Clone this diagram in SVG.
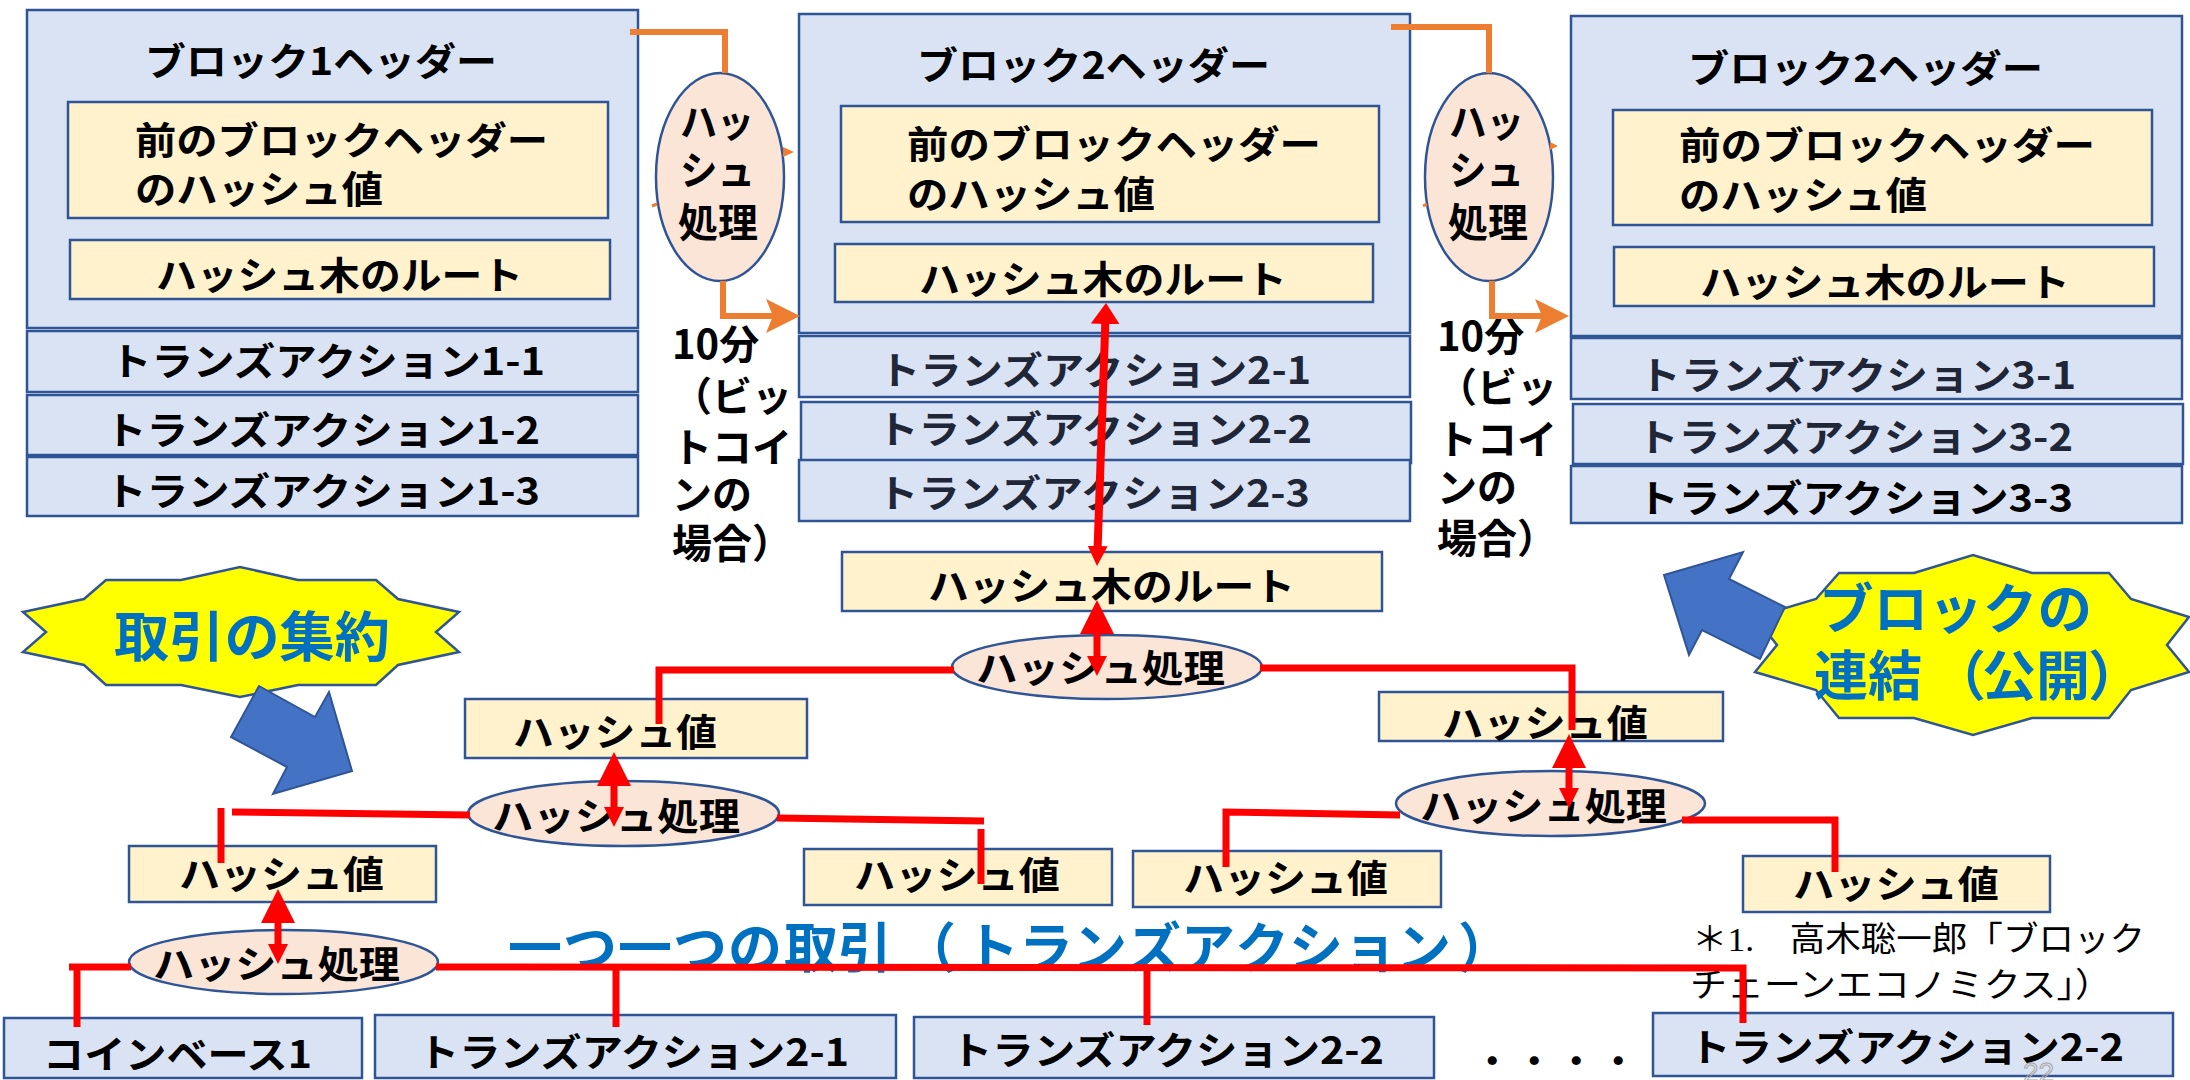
<svg xmlns="http://www.w3.org/2000/svg" width="2190" height="1080" viewBox="0 0 2190 1080">
<defs>
<style>
.blk{fill:#DAE3F3;stroke:#2F5597;stroke-width:2.5}
.yel{fill:#FFF2CC;stroke:#2F5597;stroke-width:2.5}
.ell{fill:#FBE5D6;stroke:#2F5597;stroke-width:2.5}
.star{fill:#FFFF00;stroke:#2F5597;stroke-width:2.5}
.barrow{fill:#4472C4;stroke:#2F5597;stroke-width:2}
.t{font-family:"Noto Sans CJK JP","Noto Sans",sans-serif;font-weight:700;font-size:38px;fill:#000}
.nv{fill:#1E2638}
.lbl{font-family:"Noto Sans CJK JP","Noto Sans",sans-serif;font-weight:700;font-size:40px;fill:#000}
.bt{font-family:"Noto Sans CJK JP","Noto Sans",sans-serif;font-weight:700;font-size:54px;fill:#0070C0}
.cite{font-family:"Noto Sans CJK JP","Noto Sans",sans-serif;font-weight:400;font-size:34px;fill:#000}
.red{fill:none;stroke:#FF0000;stroke-width:7}
.org{fill:none;stroke:#ED7D31;stroke-width:6}
</style>
<marker id="rbig" markerUnits="userSpaceOnUse" markerWidth="34" markerHeight="34" viewBox="0 0 34 34" refX="14" refY="17" orient="auto-start-reverse"><path d="M0,0 L34,17 L0,34 z" fill="#FF0000"/></marker>
<marker id="rmid" markerUnits="userSpaceOnUse" markerWidth="21" markerHeight="29" viewBox="0 0 21 29" refX="7" refY="14.5" orient="auto-start-reverse"><path d="M0,0 L21,14.5 L0,29 z" fill="#FF0000"/></marker>
<marker id="rsmall" markerUnits="userSpaceOnUse" markerWidth="20" markerHeight="20" viewBox="0 0 20 20" refX="8" refY="10" orient="auto"><path d="M0,0 L20,10 L0,20 z" fill="#FF0000"/></marker>
<marker id="oarr" markerUnits="userSpaceOnUse" markerWidth="34" markerHeight="34" viewBox="0 0 34 34" refX="19" refY="17" orient="auto"><path d="M0,0 L34,17 L0,34 L7,17 z" fill="#ED7D31"/></marker>
</defs>
<rect width="2190" height="1080" fill="#FFFFFF"/>

<g id="block1">
<rect class="blk" x="27" y="10" width="611" height="318"/>
<text class="t" x="145" y="75" textLength="352" lengthAdjust="spacingAndGlyphs">ブロック1ヘッダー</text>
<rect class="yel" x="68" y="102" width="540" height="116"/>
<text class="t" x="135" y="154" textLength="413" lengthAdjust="spacingAndGlyphs">前のブロックヘッダー</text>
<text class="t" x="135" y="203" textLength="248" lengthAdjust="spacingAndGlyphs">のハッシュ値</text>
<rect class="yel" x="70" y="240" width="540" height="59"/>
<text class="t" x="156" y="289" textLength="367" lengthAdjust="spacingAndGlyphs">ハッシュ木のルート</text>
<rect class="blk" x="27" y="331" width="611" height="61"/>
<text class="t" x="110" y="375" textLength="435" lengthAdjust="spacingAndGlyphs">トランズアクション1-1</text>
<rect class="blk" x="27" y="395" width="611" height="60"/>
<text class="t" x="105" y="444" textLength="435" lengthAdjust="spacingAndGlyphs">トランズアクション1-2</text>
<rect class="blk" x="27" y="457" width="611" height="59"/>
<text class="t" x="105" y="505" textLength="435" lengthAdjust="spacingAndGlyphs">トランズアクション1-3</text>
</g>

<g id="block2">
<rect class="blk" x="799" y="14" width="611" height="319"/>
<text class="t" x="917" y="79" textLength="353" lengthAdjust="spacingAndGlyphs">ブロック2ヘッダー</text>
<rect class="yel" x="841" y="106" width="538" height="116"/>
<text class="t" x="907" y="158" textLength="414" lengthAdjust="spacingAndGlyphs">前のブロックヘッダー</text>
<text class="t" x="907" y="208" textLength="248" lengthAdjust="spacingAndGlyphs">のハッシュ値</text>
<rect class="yel" x="835" y="244" width="538" height="58"/>
<text class="t" x="919" y="293" textLength="368" lengthAdjust="spacingAndGlyphs">ハッシュ木のルート</text>
<rect class="blk" x="799" y="336" width="611" height="61"/>
<text class="t nv" x="879" y="384" textLength="432" lengthAdjust="spacingAndGlyphs">トランズアクション2-1</text>
<rect class="blk" x="801" y="402" width="610" height="61"/>
<text class="t nv" x="877" y="443" textLength="435" lengthAdjust="spacingAndGlyphs">トランズアクション2-2</text>
<rect class="blk" x="799" y="460" width="611" height="61"/>
<text class="t nv" x="877" y="507" textLength="433" lengthAdjust="spacingAndGlyphs">トランズアクション2-3</text>
</g>

<g id="block3">
<rect class="blk" x="1571" y="16" width="611" height="320"/>
<text class="t" x="1688" y="82" textLength="355" lengthAdjust="spacingAndGlyphs">ブロック2ヘッダー</text>
<rect class="yel" x="1613" y="110" width="539" height="115"/>
<text class="t" x="1679" y="159" textLength="416" lengthAdjust="spacingAndGlyphs">前のブロックヘッダー</text>
<text class="t" x="1679" y="209" textLength="248" lengthAdjust="spacingAndGlyphs">のハッシュ値</text>
<rect class="yel" x="1614" y="247" width="540" height="59"/>
<text class="t" x="1700" y="296" textLength="370" lengthAdjust="spacingAndGlyphs">ハッシュ木のルート</text>
<rect class="blk" x="1571" y="338" width="611" height="61"/>
<text class="t nv" x="1639" y="389" textLength="437" lengthAdjust="spacingAndGlyphs">トランズアクション3-1</text>
<rect class="blk" x="1573" y="404" width="610" height="60"/>
<text class="t nv" x="1637" y="451" textLength="436" lengthAdjust="spacingAndGlyphs">トランズアクション3-2</text>
<rect class="blk" x="1571" y="466" width="611" height="57"/>
<text class="t" x="1637" y="512" textLength="436" lengthAdjust="spacingAndGlyphs">トランズアクション3-3</text>
</g>

<g id="hash-proc-1">
<ellipse class="ell" cx="720" cy="177" rx="64" ry="104"/>
<text class="lbl" x="680" y="137" textLength="74" lengthAdjust="spacingAndGlyphs">ハッ</text>
<text class="lbl" x="680" y="185" textLength="75" lengthAdjust="spacingAndGlyphs">シュ</text>
<text class="lbl" x="678" y="237" textLength="80" lengthAdjust="spacingAndGlyphs">処理</text>
</g>
<g id="hash-proc-2">
<ellipse class="ell" cx="1489" cy="177" rx="64" ry="104"/>
<text class="lbl" x="1449" y="137" textLength="75" lengthAdjust="spacingAndGlyphs">ハッ</text>
<text class="lbl" x="1449" y="185" textLength="75" lengthAdjust="spacingAndGlyphs">シュ</text>
<text class="lbl" x="1448" y="237" textLength="80" lengthAdjust="spacingAndGlyphs">処理</text>
</g>

<g id="label-10min-1">
<text class="lbl" x="672" y="359">10分</text>
<text class="lbl" x="672" y="411">（ビッ</text>
<text class="lbl" x="672" y="462">トコイ</text>
<text class="lbl" x="672" y="509">ンの</text>
<text class="lbl" x="672" y="558">場合）</text>
</g>
<g id="label-10min-2">
<text class="lbl" x="1437" y="351">10分</text>
<text class="lbl" x="1437" y="402">（ビッ</text>
<text class="lbl" x="1437" y="454">トコイ</text>
<text class="lbl" x="1437" y="502">ンの</text>
<text class="lbl" x="1437" y="553">場合）</text>
</g>

<g id="star-aggregate">
<polygon class="star" points="23,612 84,599 106,580 181,580 240,567 298,580 376,580 398,599 459,612 436,632 459,652 398,665 376,685 298,685 240,697 181,685 106,685 84,665 23,652 46,632"/>
<text class="bt" x="114" y="657" textLength="276" lengthAdjust="spacingAndGlyphs">取引の集約</text>
</g>
<g id="arrow-aggregate">
<polygon class="barrow" points="259,686 315,717 329,692 352,771 273,794 287,767 231,737"/>
</g>

<g id="star-link">
<polygon class="star" points="1839,573 1914,573 1973,555 2032,573 2109,573 2131,599 2189,617 2167,645 2189,672 2131,690 2109,718 2032,718 1973,735 1914,718 1839,718 1816,690 1755,672 1777,645 1755,617 1816,599"/>
<text class="bt" x="1819" y="629" textLength="273" lengthAdjust="spacingAndGlyphs">ブロックの</text>
<text class="bt" x="1814 1868 1932 1982 2036 2088" y="696">連結（公開）</text>
</g>
<g id="arrow-link">
<polygon class="barrow" points="1664,575 1743,552 1729,579 1785,607 1760,659 1702,630 1689,655"/>
</g>

<g id="merkle-root">
<rect class="yel" x="842" y="552" width="540" height="59"/>
<text class="t" x="928" y="600" textLength="367" lengthAdjust="spacingAndGlyphs">ハッシュ木のルート</text>
</g>
<g id="hp-top">
<ellipse class="ell" cx="1107" cy="667" rx="155" ry="32"/>
<text class="t" x="976" y="682" textLength="249" lengthAdjust="spacingAndGlyphs">ハッシュ処理</text>
</g>
<g id="hv-left-upper">
<rect class="yel" x="465" y="699" width="342" height="59"/>
<text class="t" x="513" y="746" textLength="204" lengthAdjust="spacingAndGlyphs">ハッシュ値</text>
</g>
<g id="hv-right-upper">
<rect class="yel" x="1379" y="692" width="344" height="49"/>
<text class="t" x="1442" y="737" textLength="206" lengthAdjust="spacingAndGlyphs">ハッシュ値</text>
</g>
<g id="hp-mid-left">
<ellipse class="ell" cx="623.5" cy="813.5" rx="155.5" ry="32.5"/>
<text class="t" x="492" y="830" textLength="248" lengthAdjust="spacingAndGlyphs">ハッシュ処理</text>
</g>
<g id="hp-mid-right">
<ellipse class="ell" cx="1550.5" cy="803.5" rx="154.5" ry="32.5"/>
<text class="t" x="1420" y="820" textLength="247" lengthAdjust="spacingAndGlyphs">ハッシュ処理</text>
</g>
<g id="hv-lower-left">
<rect class="yel" x="129" y="846" width="307" height="56"/>
<text class="t" x="179" y="888" textLength="205" lengthAdjust="spacingAndGlyphs">ハッシュ値</text>
</g>
<g id="hv-mid-left">
<rect class="yel" x="804" y="849" width="308" height="56"/>
<text class="t" x="854" y="889" textLength="206" lengthAdjust="spacingAndGlyphs">ハッシュ値</text>
</g>
<g id="hv-mid-right">
<rect class="yel" x="1133" y="851" width="308" height="56"/>
<text class="t" x="1183" y="892" textLength="205" lengthAdjust="spacingAndGlyphs">ハッシュ値</text>
</g>
<g id="hv-far-right">
<rect class="yel" x="1743" y="856" width="307" height="56"/>
<text class="t" x="1793" y="898" textLength="206" lengthAdjust="spacingAndGlyphs">ハッシュ値</text>
</g>
<g id="hp-bottom">
<ellipse class="ell" cx="283.5" cy="962" rx="154.5" ry="32"/>
<text class="t" x="153" y="978" textLength="247" lengthAdjust="spacingAndGlyphs">ハッシュ処理</text>
</g>

<g id="title-transactions">
<text class="bt" x="508 563 618 673 728 784 838 902 965 1019 1073 1127 1181 1235 1289 1343 1397 1458" y="968">一つ一つの取引（トランズアクション）</text>
</g>

<g id="tx-coinbase">
<rect class="blk" x="4" y="1018" width="358" height="60"/>
<text class="t" x="43" y="1068" textLength="269" lengthAdjust="spacingAndGlyphs">コインベース1</text>
</g>
<g id="tx-2-1">
<rect class="blk" x="375" y="1015" width="521" height="63"/>
<text class="t" x="418" y="1066" textLength="431" lengthAdjust="spacingAndGlyphs">トランズアクション2-1</text>
</g>
<g id="tx-2-2">
<rect class="blk" x="914" y="1017" width="520" height="61"/>
<text class="t" x="951" y="1064" textLength="433" lengthAdjust="spacingAndGlyphs">トランズアクション2-2</text>
</g>
<g id="ellipsis">
<text class="t" x="1480 1522 1564 1606" y="1066" style="font-size:44px">．．．．</text>
</g>
<g id="tx-2-2b">
<rect class="blk" x="1653" y="1013" width="520" height="63"/>
<text class="t" x="1689" y="1061" textLength="435" lengthAdjust="spacingAndGlyphs">トランズアクション2-2</text>
</g>

<g id="citation">
<text class="cite" x="1692" y="951" textLength="453" lengthAdjust="spacingAndGlyphs">＊<tspan style="font-family:'Liberation Serif',serif">1.</tspan>　高木聡一郎「ブロック</text>
<text class="cite" x="1690" y="997" textLength="422" lengthAdjust="spacingAndGlyphs">チェーンエコノミクス」）</text>
</g>

<g id="page-number">
<text x="2023" y="1082" style="font-family:'Liberation Sans',sans-serif;font-size:28px;fill:none;stroke:#A6A6A6;stroke-width:1">22</text>
</g>

<g id="connectors">
<path class="org" d="M630,32 H725 V73"/>
<path class="org" d="M723,281 V316 H785" marker-end="url(#oarr)"/>
<path class="org" d="M1391,27 H1489 V73"/>
<path class="org" d="M1492,281 V316 H1554" marker-end="url(#oarr)"/>
<polygon points="783,147 794,152 783,157" fill="#ED7D31"/>
<line x1="652" y1="206" x2="657" y2="204" stroke="#ED7D31" stroke-width="3"/>
<polygon points="1550,142 1558,146 1550,150" fill="#ED7D31"/>
<line x1="1423" y1="206" x2="1427" y2="204" stroke="#ED7D31" stroke-width="3"/>

<path class="red" d="M954,670 H659 V724"/>
<path class="red" d="M1260,668 H1572 V730"/>
<path class="red" d="M470,815 L232,812"/>
<path class="red" d="M221,808 V863"/>
<path class="red" d="M777,818 L984,821"/>
<path class="red" d="M981,829 V884"/>
<path class="red" d="M1400,815 L1226,812 V867"/>
<path class="red" d="M1682,820 H1835 V872"/>
<path class="red" d="M131,967 H69"/>
<path class="red" d="M77,967 V1027"/>
<path class="red" d="M436,967 L1743,968 V1023"/>
<path class="red" d="M616,968 V1027"/>
<path class="red" d="M1147,968 V1025"/>

<path class="red" style="stroke-width:8" d="M1105.5,317 L1097.4,554" marker-start="url(#rmid)" marker-end="url(#rsmall)"/>
<path class="red" d="M1097,620 V664" marker-start="url(#rbig)" marker-end="url(#rsmall)"/>
<path class="red" d="M614,772 V815" marker-start="url(#rbig)" marker-end="url(#rsmall)"/>
<path class="red" d="M1569,754 V796" marker-start="url(#rbig)" marker-end="url(#rsmall)"/>
<path class="red" d="M278,909 V952" marker-start="url(#rbig)" marker-end="url(#rsmall)"/>
</g>
</svg>
